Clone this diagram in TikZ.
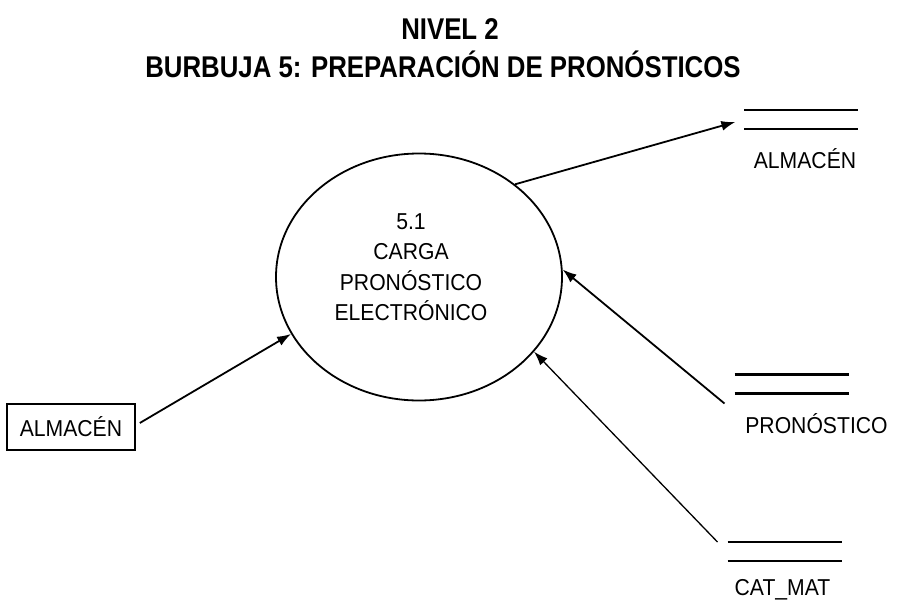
\documentclass[tikz,border=0pt]{standalone}
\usepackage{fontspec}
\setmainfont[FakeStretch=0.92]{Liberation Sans}
\newfontfamily\titlefont[FakeStretch=0.86]{Liberation Sans}
\usetikzlibrary{shapes.geometric,arrows.meta}

\tikzset{
    bubble/.style={ellipse, draw, line width=1.8pt, minimum width=286pt, minimum height=247pt, inner sep=0pt},
    entity/.style={rectangle, draw, line width=1.6pt, minimum width=128pt, minimum height=46pt, inner sep=0pt},
    store/.style={minimum width=114pt, minimum height=19pt, inner sep=0pt, outer sep=0pt},
    storeline/.style={line width=2.6pt},
    flow/.style={line width=1.8pt, -{Latex[length=14pt,width=10pt]}},
    lbl/.style={font=\fontsize{23}{30.5}\selectfont, inner sep=0pt},
    ttl/.style={font=\titlefont\bfseries\fontsize{30}{36}\selectfont, inner sep=0pt, anchor=base}
}

\begin{document}
\begin{tikzpicture}[x=1pt, y=-1pt]
    \useasboundingbox (0,0) rectangle (900,608);

    % TITLE
    \node[ttl] (title1) at (450,39) {NIVEL 2};
    \node[ttl] (title2) at (443,77) {BURBUJA 5: PREPARACIÓN DE PRONÓSTICOS};

    % PROCESS 5.1
    \node[bubble] (proc) at (419,277) {};
    \node[lbl, align=center] (proctxt) at (411,267) {5.1\\CARGA\\PRONÓSTICO\\ELECTRÓNICO};

    % EXTERNAL ENTITY
    \node[entity, lbl] (alm) at (71,427) {ALMACÉN};

    % STORES
    \node[store] (almst) at (801,119.5) {};
    \node[store] (pronost) at (791.5,384) {};
    \node[store] (catmat) at (784.5,551.5) {};
    \foreach \s in {almst,pronost,catmat}{
        \draw[storeline] (\s.north west) -- (\s.north east);
        \draw[storeline] (\s.south west) -- (\s.south east);
    }
    \node[lbl, anchor=base] (almstlbl) at ([shift={(4,39)}]almst.south) {ALMACÉN};
    \node[lbl, anchor=base] (pronostlbl) at ([shift={(25,40)}]pronost.south) {PRONÓSTICO};
    \node[lbl, anchor=base] (catmatlbl) at ([shift={(-2,34)}]catmat.south) {CAT\_MAT};

    % FLOWS
    \draw[flow] ([shift={(4,-4)}]alm.east) -- (proc.204);
    \draw[flow, shorten >=9pt] (proc.44) -- (almst.west);
    \draw[flow] ([shift={(-10,10)}]pronost.south west) -- (proc.3);
    \draw[flow, line width=1.3pt] ([shift={(-10,0)}]catmat.north west) -- (proc.327);
\end{tikzpicture}
\end{document}
